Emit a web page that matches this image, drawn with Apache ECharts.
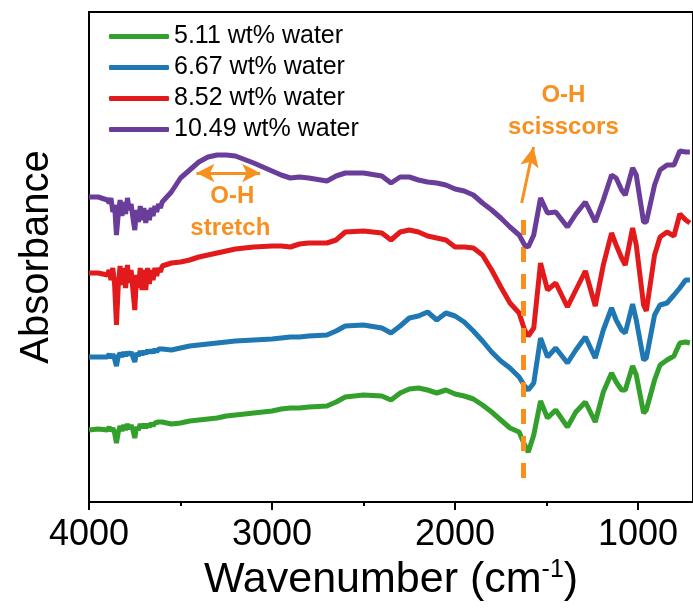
<!DOCTYPE html>
<html><head><meta charset="utf-8">
<script src="https://cdn.jsdelivr.net/npm/echarts@6/dist/echarts.min.js"></script>
<style>html,body{margin:0;padding:0;background:#fff}#c{width:693px;height:614px}</style>
</head><body><div id="c"></div>
<script>
// Wavenumber grid (cm-1), shared by all spectra
const wavenumbers = [4000,3950,
  3900,3890,3880,3870,3860,3850,3840,3830,3820,3810,
  3800,3790,3780,3770,3760,3750,3740,3730,3720,3710,
  3700,3690,3680,3670,3660,3650,3640,3630,3620,3610,3600,
  3550,3500,
  3450,3400,3350,3300,3250,3200,3100,3000,2950,2900,
  2850,2800,2700,2650,2600,2500,2400,2350,2300,2250,
  2200,2150,2100,2050,2000,1950,1900,1850,1800,1750,
  1700,1650,1620,1600,1590,1570,1533,1495,1450,1386,
  1340,1288,1234,1190,1145,1120,1090,1070,1030,1010,
  970,955,910,880,842,804,772,740,717];

// Absorbance (arbitrary units, offset spectra)
const water511 = [72,73,
  72,75,71,74,69,59,70,76,71,77,
  72,78,73,77,72,64,75,72,78,74,
  78,74,78,75,79,76,79,77,80,78,80,
  78,79,
  81,82,83,84,86,87,89,91,93,94,
  94,95,96,100,105,107,106,102,109,113,
  114,112,109,112,108,106,103,97,90,82,
  74,70,57,50,51,67,101,84,92,75,
  90,100,80,110,129,120,112,112,136,127,
  89,92,122,137,142,146,159,160,159];
const water667 = [145,145,
  145,148,144,148,143,136,146,149,145,150,
  146,150,147,150,145,140,149,146,151,147,
  151,148,152,149,152,149,153,150,153,151,153,
  152,154,
  156,157,158,159,160,161,162,163,164,165,
  165,166,167,171,176,177,174,169,176,184,
  186,190,182,189,186,180,171,161,150,141,
  134,125,116,112,113,119,164,145,154,139,
  152,165,144,172,194,182,172,169,198,182,
  142,144,187,197,199,207,214,222,222];
const water852 = [229,229,
  227,232,222,234,217,177,217,236,217,234,
  214,237,219,232,212,192,227,214,234,212,
  232,212,234,218,232,222,234,226,234,230,236,
  239,240,
  242,245,247,249,251,253,255,256,256,255,
  258,259,259,262,270,271,269,262,270,272,
  270,266,264,262,255,255,254,247,232,215,
  199,189,172,166,165,174,239,212,219,195,
  212,231,196,237,269,257,244,237,274,257,
  197,191,247,265,270,266,288,282,279];
const water1049 = [305,305,
  302,299,304,290,297,267,288,302,286,300,
  288,304,292,298,284,272,292,280,296,282,
  294,279,292,282,294,286,296,290,298,294,300,
  310,324,
  332,340,345,347,347,346,339,331,327,324,
  325,324,321,326,329,329,326,319,325,325,
  322,320,319,317,313,311,307,299,292,284,
  275,267,257,255,257,267,304,289,290,275,
  288,300,280,302,327,324,312,307,334,327,
  280,280,317,332,337,337,351,350,350];

const seriesNames = ['5.11 wt% water','6.67 wt% water','8.52 wt% water','10.49 wt% water'];
const seriesValues = [water511, water667, water852, water1049];
const colors = ['#33A02C','#1F78B4','#E31A1C','#6A3D9A'];
const majorTicks = [1000,2000,3000,4000];
const minorTicks = [1500,2500,3500];

// Annotation anchors (data coordinates)
const ohScissorsLine = [[1630,24],[1630,285]];
const ohScissorsArrow = [[1636,299],[1571,355]];
const ohStretchArrow = [[3413,329],[3065,329]];
const annotationTexts = [
  {text:'O-H', at:[3217,306]},
  {text:'stretch', at:[3228,274]},
  {text:'O-H', at:[1408,407]},
  {text:'scisscors', at:[1408,375]}
];
const orange = '#F7901E';
const FONT = 'Liberation Sans, Arial, sans-serif';

const chart = echarts.init(document.getElementById('c'), null, {renderer:'canvas'});

const series = seriesNames.map((name, k) => ({
  name, type:'line', showSymbol:false, symbol:'none',
  data: wavenumbers.map((w,i) => [w, seriesValues[k][i]]),
  lineStyle:{color:colors[k], width:5},
  itemStyle:{color:colors[k]},
  z: 2 + k, animation:false
}));

series.push({
  type:'line', data:[], silent:true, z:10, animation:false,
  markLine:{
    silent:true, animation:false,
    label:{show:false},
    data:[
      [{coord:ohScissorsLine[0], symbol:'none', lineStyle:{color:orange, width:5, type:[15,12]}},
       {coord:ohScissorsLine[1], symbol:'none'}],
      [{coord:ohScissorsArrow[0], symbol:'none', lineStyle:{color:orange, width:3, type:'solid'}},
       {coord:ohScissorsArrow[1], symbol:'arrow', symbolSize:[14,20]}],
      [{coord:ohStretchArrow[0], symbol:'arrow', symbolSize:[14,18], lineStyle:{color:orange, width:3, type:'solid'}},
       {coord:ohStretchArrow[1], symbol:'arrow', symbolSize:[14,18]}]
    ]
  }
});

chart.setOption({
  animation:false,
  textStyle:{fontFamily:FONT},
  grid:{left:89, top:12, width:607, height:490, show:true, borderColor:'#000', borderWidth:2, containLabel:false},
  legend:{
    orient:'vertical', left:104, top:19, itemWidth:60, itemHeight:5, itemGap:6,
    icon:'roundRect',
    data:seriesNames,
    textStyle:{fontSize:25, color:'#000', fontFamily:FONT, lineHeight:25},
    selectedMode:false
  },
  xAxis:[{
    type:'value', min:700, max:4000, inverse:true,
    axisLine:{show:true, onZero:false, lineStyle:{color:'#000', width:2}},
    axisTick:{show:true, customValues:majorTicks, length:8, lineStyle:{color:'#000', width:2}},
    axisLabel:{customValues:majorTicks, fontSize:36, color:'#000', margin:15, fontFamily:FONT,
      formatter:v => String(v)},
    splitLine:{show:false},
    name:'Wavenumber (cm{sup|-1})', nameLocation:'middle', nameGap:56,
    nameTextStyle:{fontSize:43, color:'#000', fontFamily:FONT,
      rich:{sup:{fontSize:25, verticalAlign:'top', padding:[0,0,20,0], color:'#000', fontFamily:FONT}}}
  },{
    type:'value', min:700, max:4000, inverse:true, position:'bottom',
    axisLine:{show:false},
    axisTick:{show:true, customValues:minorTicks, length:4, lineStyle:{color:'#000', width:2}},
    axisLabel:{show:false}, splitLine:{show:false}
  }],
  yAxis:{
    type:'value', min:0, max:490,
    axisLine:{show:true, lineStyle:{color:'#000', width:2}},
    axisTick:{show:false}, axisLabel:{show:false}, splitLine:{show:false},
    name:'Absorbance', nameLocation:'middle', nameGap:32,
    nameTextStyle:{fontSize:40, color:'#000', fontFamily:FONT}
  },
  series
});

const g = annotationTexts.map(a => {
  const p = chart.convertToPixel({gridIndex:0}, a.at);
  return {type:'text', x:p[0], y:p[1], z:20,
    style:{text:a.text, fill:orange, font:'bold 24px ' + FONT, textAlign:'center', textVerticalAlign:'middle'}};
});
chart.setOption({graphic:g});
</script>
</body></html>
